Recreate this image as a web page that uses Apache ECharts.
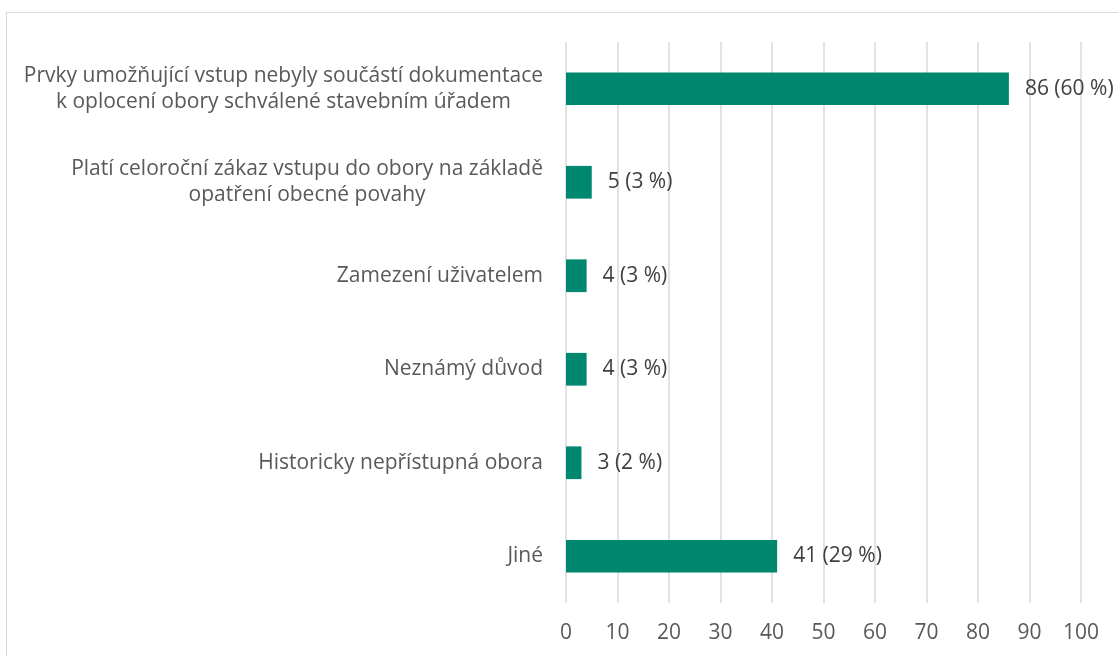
<!DOCTYPE html>
<html><head><meta charset="utf-8">
<script src="https://cdn.jsdelivr.net/npm/echarts@6/dist/echarts.min.js"></script>
<style>
html,body{margin:0;padding:0;background:#fff;overflow:hidden;}
#frame{position:absolute;left:6px;top:12px;width:1200px;height:700px;border:1px solid #d9d9d9;box-sizing:border-box;}
#c{position:absolute;left:0;top:0;width:1118px;height:656px;}
</style></head>
<body>
<div id="frame"></div>
<div id="c"></div>
<script>
const categories = [
  "Prvky umožňující vstup nebyly součástí dokumentace\nk oplocení obory schválené stavebním úřadem",
  "Platí celoroční zákaz vstupu do obory na základě\nopatření obecné povahy",
  "Zamezení uživatelem",
  "Neznámý důvod",
  "Historicky nepřístupná obora",
  "Jiné"
];
const counts = [86, 5, 4, 4, 3, 41];
const percents = [60, 3, 3, 3, 2, 29];
const xTicks = [0, 10, 20, 30, 40, 50, 60, 70, 80, 90, 100];

const chart = echarts.init(document.getElementById('c'), null, {renderer: 'canvas'});
const font = '"Open Sans", sans-serif';
chart.setOption({
  animation: false,
  grid: {left: 566, right: 37, top: 42, bottom: 53, containLabel: false},
  xAxis: {
    type: 'value', min: xTicks[0], max: xTicks[xTicks.length - 1], interval: 10,
    axisLine: {show: false}, axisTick: {show: false},
    splitLine: {show: true, lineStyle: {color: '#d9d9d9', width: 1.5}},
    axisLabel: {color: '#595959', fontSize: 21, fontFamily: font, margin: 20}
  },
  yAxis: {
    type: 'category', data: categories, inverse: true,
    axisLine: {show: false}, axisTick: {show: false},
    axisLabel: {
      color: '#595959', fontSize: 21, fontFamily: font, margin: 23, align: 'right', lineHeight: 26, verticalAlign: 'middle',
      formatter: v => v.split('\n').map(l => '{c|' + l + '}').join('\n'),
      rich: {c: {align: 'center', color: '#595959', fontSize: 21, fontFamily: font, lineHeight: 26}}
    }
  },
  series: [{
    type: 'bar',
    data: counts,
    barWidth: '35%',
    itemStyle: {color: '#00876F'},
    label: {
      show: true, position: 'right', distance: 16,
      color: '#404040', fontSize: 21, fontFamily: font,
      formatter: p => counts[p.dataIndex] + ' (' + percents[p.dataIndex] + ' %)'
    }
  }]
});
</script>
</body></html>
